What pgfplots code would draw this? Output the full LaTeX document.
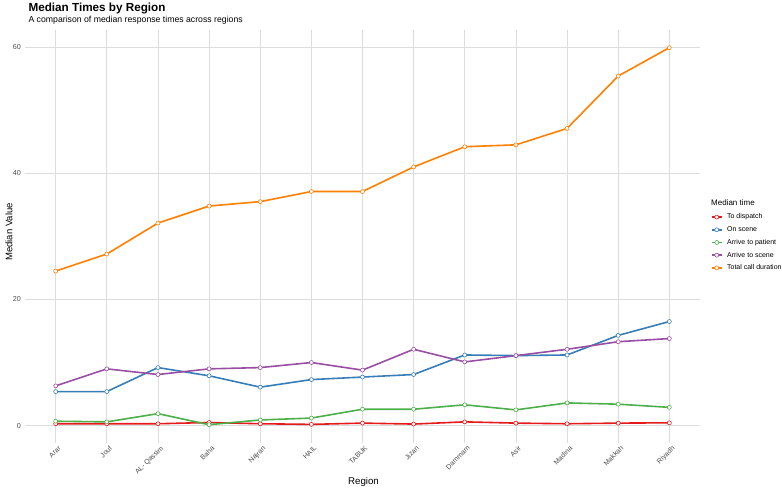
\documentclass[border=0pt]{standalone}
\usepackage{fontspec}
\setmainfont{Liberation Sans}
\usepackage{pgfplots}
\usepackage{pgfplotstable}
\pgfplotsset{compat=1.18}
\definecolor{cred}{HTML}{E41A1C}
\definecolor{cblue}{HTML}{377EB8}
\definecolor{cgreen}{HTML}{4DAF4A}
\definecolor{cpurple}{HTML}{984EA3}
\definecolor{corange}{HTML}{FF7F00}
\definecolor{gridc}{HTML}{DCDCDC}
\definecolor{tickc}{HTML}{4D4D4D}
\pgfplotstableread{
x dispatch scene patient arrive total
0  0.30  5.4 0.70  6.3 24.5
1  0.30  5.4 0.60  9.0 27.2
2  0.30  9.2 1.90  8.1 32.1
3  0.50  7.9 0.15  9.0 34.8
4  0.30  6.1 0.90  9.2 35.5
5  0.20  7.3 1.20 10.0 37.1
6  0.40  7.7 2.60  8.8 37.1
7  0.25  8.1 2.60 12.1 41.0
8  0.60 11.2 3.30 10.1 44.2
9  0.40 11.1 2.50 11.1 44.5
10 0.30 11.2 3.60 12.1 47.1
11 0.40 14.3 3.40 13.3 55.4
12 0.45 16.5 2.90 13.8 59.9
}\datatable
\begin{document}
\begin{tikzpicture}
\path[use as bounding box] (0,0) rectangle (782pt,489pt);
\begin{axis}[
  at={(25pt,46pt)}, anchor=south west,
  scale only axis, width=675pt, height=413pt,
  xmin=-0.6, xmax=12.6, ymin=-2.75, ymax=62.7,
  axis line style={draw=none},
  tick style={draw=none},
  xtick={0,...,12},
  xticklabels={Arar,Jouf,AL- Qassim,Baha,Najran,HAIL,TABUK,Jizan,Dammam,Asir,Madina,Makkah,Riyadh},
  ytick={0,20,40,60},
  grid=major,
  major grid style={gridc, line width=0.8pt},
  /pgf/number format/assume math mode=true,
  xticklabel style={rotate=45, anchor=north east, inner sep=0pt, yshift=-3pt, font=\fontsize{7}{8}\selectfont, text=tickc},
  yticklabel style={inner sep=0pt, xshift=-4pt, font=\fontsize{7.2}{8}\selectfont, text=tickc},
  legend cell align=left,
  legend style={at={(1.0163,0.4855)}, anchor=west, draw=none, fill=none,
    font=\fontsize{7}{8}\selectfont, inner sep=0pt, outer sep=0pt, row sep=5.9pt,
    nodes={inner sep=0pt, text height=5.3pt, text depth=1.5pt},
    /tikz/every odd column/.append style={column sep=4.5pt}},
  legend image code/.code={\draw[mark repeat=2,mark phase=2,#1] plot coordinates {(0pt,0pt) (5pt,0pt) (10pt,0pt)};},
  every axis plot/.append style={line width=1.6pt, mark=*, mark size=2pt,
    mark options={solid, fill=white, line width=0.6pt}},
]
\addplot[cred] table[x=x, y=dispatch] {\datatable};
\addlegendentry{To dispatch}
\addplot[cblue] table[x=x, y=scene] {\datatable};
\addlegendentry{On scene}
\addplot[cgreen] table[x=x, y=patient] {\datatable};
\addlegendentry{Arrive to patient}
\addplot[cpurple] table[x=x, y=arrive] {\datatable};
\addlegendentry{Arrive to scene}
\addplot[corange] table[x=x, y=total] {\datatable};
\addlegendentry{Total call duration}
\end{axis}
\node[anchor=base west, font=\bfseries\fontsize{11.7}{13}\selectfont] at (25pt,477pt) {Median Times by Region};
\node[anchor=base west, font=\fontsize{8.7}{10}\selectfont] at (25pt,466.5pt) {A comparison of median response times across regions};
\node[anchor=base west, font=\fontsize{8}{9}\selectfont, inner sep=0pt] at (711pt,283pt) {Median time};
\node[anchor=base, font=\fontsize{9.7}{11}\selectfont] at (363.5pt,4pt) {Region};
\node[rotate=90, anchor=center, font=\fontsize{9.5}{11}\selectfont] at (9pt,257pt) {Median Value};
\end{tikzpicture}
\end{document}
